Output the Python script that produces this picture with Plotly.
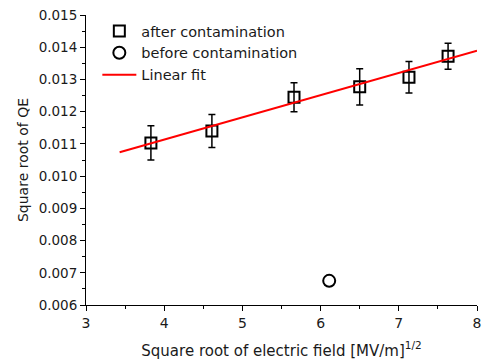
import plotly.graph_objects as go

# Data
after_x = [3.83, 4.61, 5.66, 6.50, 7.13, 7.63]
after_y = [0.01103, 0.01140, 0.01245, 0.01277, 0.01307, 0.01372]
after_err = [0.00053, 0.00051, 0.00045, 0.00056, 0.00049, 0.00040]

before_x = [6.11]
before_y = [0.00675]

fit_x = [3.43, 8.0]
fit_y = [0.01074, 0.01389]

x_ticks = [3, 4, 5, 6, 7, 8]
y_ticks = [0.006, 0.007, 0.008, 0.009, 0.010, 0.011, 0.012, 0.013, 0.014, 0.015]

FONT = "DejaVu Sans"

fig = go.Figure()
fig.add_trace(go.Scatter(
    x=after_x, y=after_y, mode="markers", name="after contamination",
    marker=dict(symbol="square-open", size=11, color="black", line=dict(width=2, color="black")),
    error_y=dict(type="data", array=after_err, visible=True, color="black", thickness=1.5, width=3.5),
))
fig.add_trace(go.Scatter(
    x=before_x, y=before_y, mode="markers", name="before contamination",
    marker=dict(symbol="circle-open", size=12, color="black", line=dict(width=2, color="black")),
))
fig.add_trace(go.Scatter(
    x=fit_x, y=fit_y, mode="lines", name="Linear fit",
    line=dict(color="red", width=2),
))

fig.update_layout(
    width=483, height=361,
    margin=dict(l=86, r=6, t=15, b=56, autoexpand=False),
    paper_bgcolor="white", plot_bgcolor="white",
    font=dict(family=FONT, size=13, color="#1a1a1a"),
    showlegend=True,
    legend=dict(x=0.029, y=1.0, xanchor="left", yanchor="top",
                bgcolor="rgba(0,0,0,0)", borderwidth=0, itemwidth=34,
                font=dict(family=FONT, size=14.5, color="#1a1a1a"),
                tracegroupgap=0),
)
fig.update_xaxes(
    range=[3, 8], tickvals=x_ticks, ticktext=[str(v) for v in x_ticks],
    automargin=False,
    showgrid=False, zeroline=False, showline=True, linecolor="black", linewidth=1,
    ticks="outside", ticklen=5, tickcolor="black",
    minor=dict(dtick=0.5, ticks="outside", ticklen=3, tickcolor="black", showgrid=False),
    title=dict(text="Square root of electric field [MV/m]<sup>1/2</sup>",
               font=dict(family=FONT, size=15, color="#1a1a1a"), standoff=15),
    tickfont=dict(family=FONT, size=14, color="#1a1a1a"),
)
fig.update_yaxes(
    range=[0.006, 0.015], tickvals=y_ticks, ticktext=[f"{v:.3f}" for v in y_ticks],
    automargin=False,
    showgrid=False, zeroline=False, showline=True, linecolor="black", linewidth=1,
    ticks="outside", ticklen=5, tickcolor="black",
    minor=dict(dtick=0.0005, ticks="outside", ticklen=3, tickcolor="black", showgrid=False),
    title=dict(text="Square root of QE",
               font=dict(family=FONT, size=14, color="#1a1a1a"), standoff=6),
    tickfont=dict(family=FONT, size=13.5, color="#1a1a1a"),
)

fig.write_html("out.html")
